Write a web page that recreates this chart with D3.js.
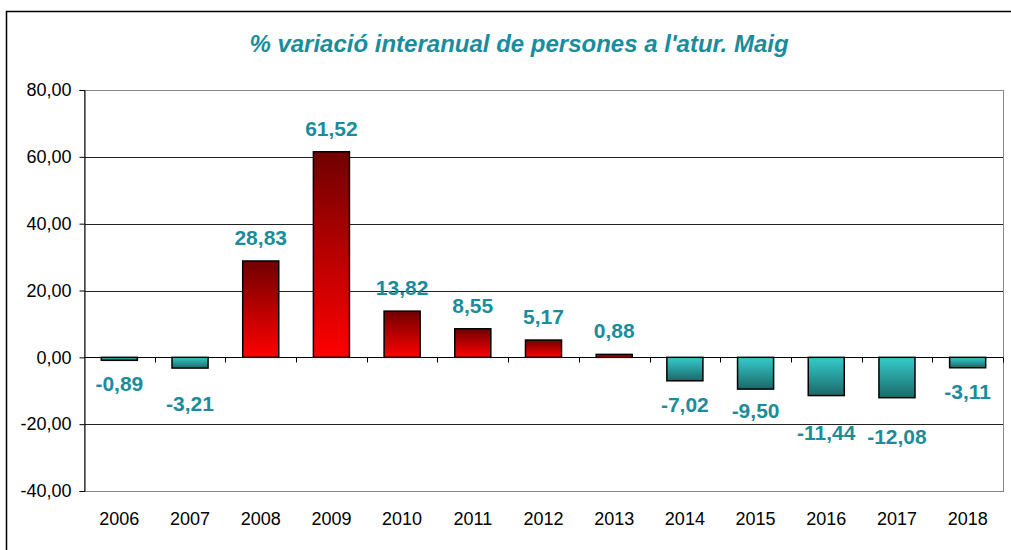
<!DOCTYPE html>
<html>
<head>
<meta charset="utf-8">
<script src="https://cdn.jsdelivr.net/npm/d3@7"></script>
<style>
  body { margin: 0; background: #fff; }
  svg { display: block; font-family: Arial, "Liberation Sans", sans-serif; }
</style>
</head>
<body>
<div id="chart"></div>
<script>
// % variació interanual de persones a l'atur (maig)
const years = ['2006', '2007', '2008', '2009', '2010', '2011', '2012', '2013', '2014', '2015', '2016', '2017', '2018'];
const values = [-0.89, -3.21, 28.83, 61.52, 13.82, 8.55, 5.17, 0.88, -7.02, -9.50, -11.44, -12.08, -3.11];
const yTicks = [-40, -20, 0, 20, 40, 60, 80];
const title = "% variació interanual de persones a l'atur. Maig";

// labels were hand-moved in the original sheet (px, extra downward shift)
const labelNudge = [0, 12, 0, 0, 0, 0, 0, 0, 0, -2, 13, 15, 0];

const W = 1011, H = 550;
const m = { top: 90, right: 8, bottom: 59, left: 84 };
const labelColor = '#1b8c9c';

const loc = d3.formatLocale({ decimal: ',', thousands: '.', grouping: [3], currency: ['', '€'], minus: '-' });
const fmt = loc.format('.2f');

const svg = d3.select('#chart').append('svg')
  .attr('width', W)
  .attr('height', H);

// outer frame
svg.append('rect')
  .attr('x', 6.5).attr('y', 11.5)
  .attr('width', W + 10).attr('height', H + 10)
  .attr('fill', 'none')
  .attr('stroke', '#000')
  .attr('stroke-width', 1.5);

const defs = svg.append('defs');
const gPos = defs.append('linearGradient').attr('id', 'gPos').attr('x1', 0).attr('y1', 0).attr('x2', 0).attr('y2', 1);
gPos.append('stop').attr('offset', '0%').attr('stop-color', '#700000');
gPos.append('stop').attr('offset', '100%').attr('stop-color', '#ff0000');
const gNeg = defs.append('linearGradient').attr('id', 'gNeg').attr('x1', 0).attr('y1', 0).attr('x2', 0).attr('y2', 1);
gNeg.append('stop').attr('offset', '0%').attr('stop-color', '#35cccc');
gNeg.append('stop').attr('offset', '100%').attr('stop-color', '#1c6868');

const x = d3.scaleBand()
  .domain(years)
  .range([m.left, W - m.right])
  .paddingInner(0.49)
  .paddingOuter(0.245);

const y = d3.scaleLinear()
  .domain([-40, 80])
  .range([H - m.bottom, m.top]);

// title
svg.append('text')
  .attr('x', 519)
  .attr('y', 52)
  .attr('text-anchor', 'middle')
  .attr('font-size', 24)
  .attr('font-weight', 'bold')
  .attr('font-style', 'italic')
  .attr('fill', labelColor)
  .text(title);

// gridlines
svg.append('g').selectAll('line')
  .data(yTicks.filter(t => t !== 80 && t !== -40 && t !== 0))
  .join('line')
  .attr('x1', m.left).attr('x2', W - m.right)
  .attr('y1', d => Math.round(y(d)) + 0.5).attr('y2', d => Math.round(y(d)) + 0.5)
  .attr('stroke', '#222');

// plot border
svg.append('rect')
  .attr('x', m.left + 0.5).attr('y', m.top + 0.5)
  .attr('width', W - m.right - m.left).attr('height', H - m.bottom - m.top)
  .attr('fill', 'none')
  .attr('stroke', '#888');

// bars
svg.append('g').selectAll('rect')
  .data(values)
  .join('rect')
  .attr('x', (d, i) => x(years[i]))
  .attr('y', d => y(Math.max(0, d)))
  .attr('width', x.bandwidth())
  .attr('height', d => Math.abs(y(d) - y(0)))
  .attr('fill', d => d >= 0 ? 'url(#gPos)' : 'url(#gNeg)')
  .attr('stroke', '#000')
  .attr('stroke-width', 1.5);

// y axis
const yAxis = svg.append('g')
  .attr('transform', `translate(${m.left + 0.5},0)`)
  .call(d3.axisLeft(y).tickValues(yTicks).tickSize(5).tickPadding(8).tickFormat(fmt));
yAxis.selectAll('text').attr('font-size', 18).attr('fill', '#000').attr('font-family', 'Arial, "Liberation Sans", sans-serif');
yAxis.selectAll('line').attr('stroke', '#000');
yAxis.select('.domain').attr('stroke', '#000');

// zero line with category ticks
const y0 = Math.round(y(0)) + 0.5;
const step = x.step();
svg.append('line')
  .attr('x1', m.left).attr('x2', W - m.right)
  .attr('y1', y0).attr('y2', y0)
  .attr('stroke', '#000');
svg.append('g').selectAll('line')
  .data(years)
  .join('line')
  .attr('x1', d => Math.round(x(d) + x.bandwidth() / 2 + step / 2) + 0.5)
  .attr('x2', d => Math.round(x(d) + x.bandwidth() / 2 + step / 2) + 0.5)
  .attr('y1', y0).attr('y2', y0 + 5)
  .attr('stroke', '#000');

// year labels
svg.append('g').selectAll('text')
  .data(years)
  .join('text')
  .attr('x', d => x(d) + x.bandwidth() / 2)
  .attr('y', H - m.bottom + 34)
  .attr('text-anchor', 'middle')
  .attr('font-size', 18)
  .attr('fill', '#000')
  .text(d => d);

// value labels
svg.append('g').selectAll('text')
  .data(values)
  .join('text')
  .attr('x', (d, i) => x(years[i]) + x.bandwidth() / 2)
  .attr('y', (d, i) => (d >= 0 ? y(d) - 16 : y(d) + 31) + labelNudge[i])
  .attr('text-anchor', 'middle')
  .attr('font-size', 21)
  .attr('font-weight', 'bold')
  .attr('fill', labelColor)
  .text(d => fmt(d));
</script>
</body>
</html>
